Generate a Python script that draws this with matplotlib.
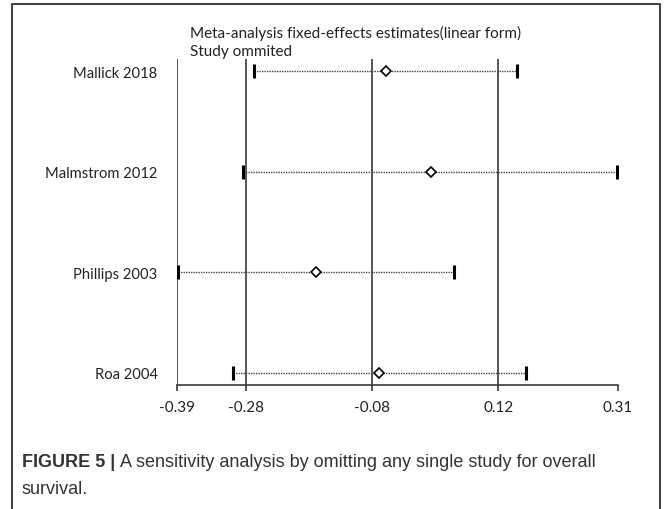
import matplotlib.pyplot as plt
from matplotlib.lines import Line2D

# studies omitted and the pooled estimate with 95% CI
studies = ["Mallick 2018", "Malmstrom 2012", "Phillips 2003", "Roa 2004"]
estimate = [-0.059, 0.013, -0.169, -0.070]
lower = [-0.268, -0.285, -0.389, -0.301]
upper = [0.149, 0.309, 0.049, 0.164]

ref_lines = [-0.39, -0.28, -0.08, 0.12]
tick_vals = [-0.39, -0.28, -0.08, 0.12, 0.31]
tick_labels = ["-0.39", "-0.28", "-0.08", "0.12", "0.31"]

W, H = 667, 510
fig = plt.figure(figsize=(W / 100, H / 100), dpi=100)

# axes placed so that -0.39 -> px 177 and 0.31 -> px 618
ax = fig.add_axes([177 / W, 1 - 386 / H, 441 / W, 326 / H])
ax.set_xlim(-0.39, 0.31)
ax.set_ylim(0.88, 4.12)

for x in ref_lines:
    ax.axvline(x, color="#3a3a3a", lw=1.2, zorder=1)

ypos = [4, 3, 2, 1]
for y, e, lo, hi in zip(ypos, estimate, lower, upper):
    ax.plot([lo, hi], [y, y], ls=(0, (1, 0.8)), color="#444444", lw=1.0, zorder=2)
    ax.plot([lo, hi], [y, y], ls="none", marker="|", ms=10, mew=2.2, color="black", zorder=3)
    ax.plot(e, y, marker="D", ms=5.5, mfc="white", mec="black", mew=1.2, zorder=4)

for s in ["top", "right", "left"]:
    ax.spines[s].set_visible(False)
ax.spines["bottom"].set_color("#3a3a3a")
ax.spines["bottom"].set_linewidth(1.2)

ax.set_xticks(tick_vals)
ax.set_xticklabels(tick_labels, family="Lato", fontsize=11, color="#222222")
ax.tick_params(axis="x", direction="out", length=4, width=1.2, color="#3a3a3a", pad=7)
ax.set_yticks(ypos)
ax.set_yticklabels(studies, family="Lato", fontsize=10.6, color="#222222")
ax.tick_params(axis="y", length=0, pad=14)

fig.text(190 / W, 1 - 33 / H, "Meta-analysis fixed-effects estimates(linear form)",
         family="Lato", fontsize=11, color="#222222", va="center")
fig.text(190 / W, 1 - 52 / H, "Study ommited",
         family="Lato", fontsize=11, color="#222222", va="center")

# caption: bold label, then the plain text right after it
cap_font = "Liberation Sans"
lab = fig.text(22 / W, 1 - 463 / H, "FIGURE 5 | ", family=cap_font, fontsize=13,
               fontweight="bold", color="#333333", va="center")
fig.canvas.draw()
bb = lab.get_window_extent()
fig.text(bb.x1 / W, 1 - 463 / H, "A sensitivity analysis by omitting any single study for overall",
         family=cap_font, fontsize=13, color="#333333", va="center")
fig.text(22 / W, 1 - 490 / H, "survival.", family=cap_font, fontsize=13,
         color="#333333", va="center")

# outer frame (top, left, right; open at the bottom)
frame_x = [12 / W, 12 / W, 660 / W, 660 / W]
frame_y = [0, 1 - 4.5 / H, 1 - 4.5 / H, 0]
fig.add_artist(Line2D(frame_x, frame_y, color="#444444", lw=1.5, transform=fig.transFigure))

fig.savefig("out.png", dpi=100, facecolor="white")
